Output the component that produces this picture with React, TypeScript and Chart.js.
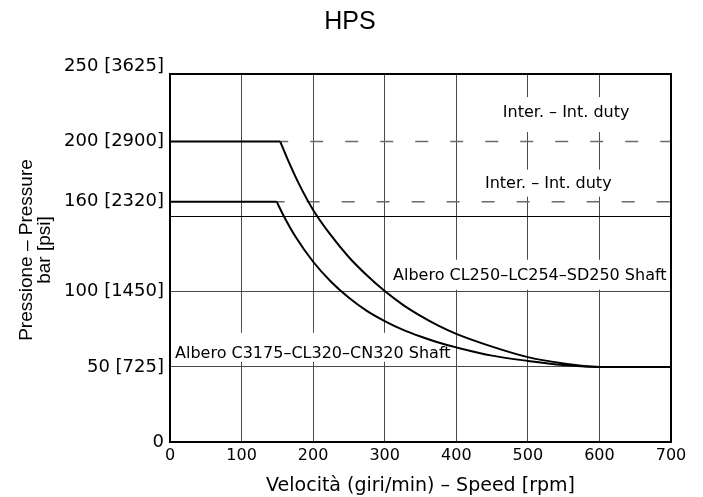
import { useEffect, useRef } from 'react';
import { Chart, registerables } from 'chart.js';

Chart.register(...registerables);

// ---------- data ----------
const chartTitle = 'HPS';
const xTitle = 'Velocità (giri/min) – Speed [rpm]';
const yTitleLines = ['Pressione – Pressure', 'bar [psi]'];

const xTickValues = [0, 100, 200, 300, 400, 500, 600, 700];
const yTickBar = [0, 50, 100, 150, 160, 200];
const yTickPsi = [null, 725, 1450, null, 2320, 2900];
const yTopBar = 250;
const yTopPsi = 3625;

// upper shaft (200 bar)
const upperSpeed = [0, 154, 165, 180, 200, 225, 250, 275, 300, 325, 350, 375, 400, 450, 500, 550, 600, 700];
const upperPressure = [200, 200, 187.5, 172, 154.5, 137.5, 123, 111, 100.5, 91.5, 84, 77.5, 72, 63.5, 56.5, 52.3, 50, 50];
// lower shaft (160 bar)
const lowerSpeed = [0, 149, 160, 175, 200, 225, 250, 275, 300, 325, 350, 375, 400, 450, 500, 550, 600, 700];
const lowerPressure = [160, 160, 149.5, 137, 120, 106.7, 96, 87.3, 80.5, 74.8, 70.2, 66.2, 63, 57.5, 54, 51.3, 50, 50];

// intermittent duty limits (dashed)
const dutyPressure = [200, 160];
const dutyFrom = [154, 149];
const dutyTo = [700, 700];

// text annotations
const noteTexts = [
  'Inter. – Int. duty',
  'Inter. – Int. duty',
  'Albero CL250–LC254–SD250 Shaft',
  'Albero C3175–CL320–CN320 Shaft',
];
const noteSpeed = [465, 440, 311.6, 7];
const noteBar = [219, 172, 110.7, 58.7];

// ---------- styles ----------
const CAD_FONT = '"DejaVu Sans", sans-serif';
const SANS_FONT = '"Liberation Sans", Arial, sans-serif';
const notePad: [number, number][] = [
  [16, 19],
  [14, 13],
  [16, 14],
  [21, 8],
];

const pts = (xs: number[], ys: number[]) => xs.map((x, i) => ({ x, y: ys[i] }));

export default function App() {
  const ref = useRef<HTMLCanvasElement | null>(null);

  useEffect(() => {
    if (!ref.current) return;

    const upper = pts(upperSpeed, upperPressure);
    const lower = pts(lowerSpeed, lowerPressure);

    const overlay = {
      id: 'overlay',
      beforeDatasetsDraw(chart: any) {
        const { ctx, scales } = chart;
        const x = scales.x;
        const y = scales.y;
        ctx.save();
        ctx.font = `16px ${CAD_FONT}`;
        ctx.textBaseline = 'middle';
        ctx.textAlign = 'left';
        noteTexts.forEach((t, i) => {
          const px = x.getPixelForValue(noteSpeed[i]);
          const py = y.getPixelForValue(noteBar[i]);
          const w = ctx.measureText(t).width;
          const [pt, pb] = notePad[i];
          ctx.fillStyle = '#ffffff';
          ctx.fillRect(px - 3, py - pt, w + 6, pt + pb);
          ctx.fillStyle = '#000000';
          ctx.fillText(t, px, py);
        });
        ctx.restore();
      },
      afterDraw(chart: any) {
        const { ctx, chartArea, scales } = chart;
        const y = scales.y;
        ctx.save();
        // frame top & right
        ctx.strokeStyle = '#000';
        ctx.lineWidth = 2;
        ctx.beginPath();
        ctx.moveTo(chartArea.left, chartArea.top);
        ctx.lineTo(chartArea.right, chartArea.top);
        ctx.lineTo(chartArea.right, chartArea.bottom);
        ctx.stroke();
        // top tick label
        ctx.fillStyle = '#000';
        ctx.font = `18px ${CAD_FONT}`;
        ctx.textAlign = 'right';
        ctx.textBaseline = 'middle';
        ctx.fillText(`${yTopBar} [${yTopPsi}]`, chartArea.left - 6, y.getPixelForValue(yTopBar));
        // title
        ctx.font = `25px ${SANS_FONT}`;
        ctx.textAlign = 'center';
        ctx.textBaseline = 'alphabetic';
        ctx.fillText(chartTitle, 350, 29);
        // y title
        ctx.font = `19px ${SANS_FONT}`;
        ctx.translate(0, 250);
        ctx.rotate(-Math.PI / 2);
        ctx.textAlign = 'center';
        ctx.fillText(yTitleLines[0], 0, 32);
        ctx.fillText(yTitleLines[1], 0, 50);
        ctx.restore();
      },
    };

    const curve = (data: any[]) => ({
      data,
      borderColor: '#000',
      borderWidth: 2,
      pointRadius: 0,
      cubicInterpolationMode: 'monotone',
      fill: false,
    });
    const straight = (data: any[]) => ({
      data,
      borderColor: '#000',
      borderWidth: 2,
      pointRadius: 0,
      tension: 0,
    });

    const chart = new Chart(ref.current, {
      type: 'line',
      data: {
        datasets: [
          curve(upper.slice(1)),
          curve(lower.slice(1)),
          straight(upper.slice(0, 2)),
          straight(lower.slice(0, 2)),
          ...dutyPressure.map((p, i) => ({
            data: [
              { x: dutyFrom[i], y: p },
              { x: dutyTo[i], y: p },
            ],
            borderColor: '#6a6a6a',
            borderWidth: 1.5,
            borderDash: [13, 22],
            borderDashOffset: 5,
            pointRadius: 0,
            tension: 0,
          })),
        ] as any,
      },
      options: {
        responsive: false,
        animation: false,
        events: [],
        layout: { padding: { left: 0, top: 74, right: 32, bottom: 0 } },
        plugins: {
          legend: { display: false },
          tooltip: { enabled: false },
          title: { display: false },
        },
        scales: {
          x: {
            type: 'linear',
            min: 0,
            max: 700,
            afterBuildTicks: (s: any) => {
              s.ticks = xTickValues.map((v) => ({ value: v }));
            },
            afterFit: (s: any) => {
              s.height = 55;
            },
            ticks: {
              color: '#000',
              font: { family: CAD_FONT, size: 16 },
              padding: 4,
              maxRotation: 0,
              autoSkip: false,
            },
            grid: {
              drawTicks: false,
              lineWidth: 1,
              color: (c: any) =>
                c.tick && (c.tick.value === 0 || c.tick.value === 700) ? 'rgba(0,0,0,0)' : '#4a4a4a',
            },
            border: { color: '#000', width: 2 },
            title: {
              display: true,
              text: xTitle,
              color: '#000',
              font: { family: CAD_FONT, size: 19 },
              padding: { top: 0, bottom: 0 },
            },
          },
          y: {
            type: 'linear',
            min: 0,
            max: 245,
            afterBuildTicks: (s: any) => {
              s.ticks = yTickBar.map((v) => ({ value: v }));
            },
            afterFit: (s: any) => {
              s.width = 170;
            },
            ticks: {
              color: '#000',
              font: { family: CAD_FONT, size: 18 },
              padding: 6,
              autoSkip: false,
              callback: (v: any) => {
                const i = yTickBar.indexOf(Number(v));
                if (i < 0) return '';
                if (yTickBar[i] === 0) return '0';
                const psi = yTickPsi[i];
                return psi === null ? '' : `${yTickBar[i]} [${psi}]`;
              },
            },
            grid: {
              drawTicks: false,
              lineWidth: 1,
              color: (c: any) => {
                const v = c.tick ? c.tick.value : -1;
                if (v === 150) return '#000000';
                if (v === 0 || v === 160 || v === 200) return 'rgba(0,0,0,0)';
                return '#4a4a4a';
              },
            },
            border: { color: '#000', width: 2 },
          },
        },
      },
      plugins: [overlay],
    } as any);

    return () => chart.destroy();
  }, []);

  return (
    <div style={{ position: 'fixed', left: 0, top: 0, width: 703, height: 497, background: '#fff' }}>
      <canvas ref={ref} width={703} height={497} style={{ display: 'block' }} />
    </div>
  );
}
